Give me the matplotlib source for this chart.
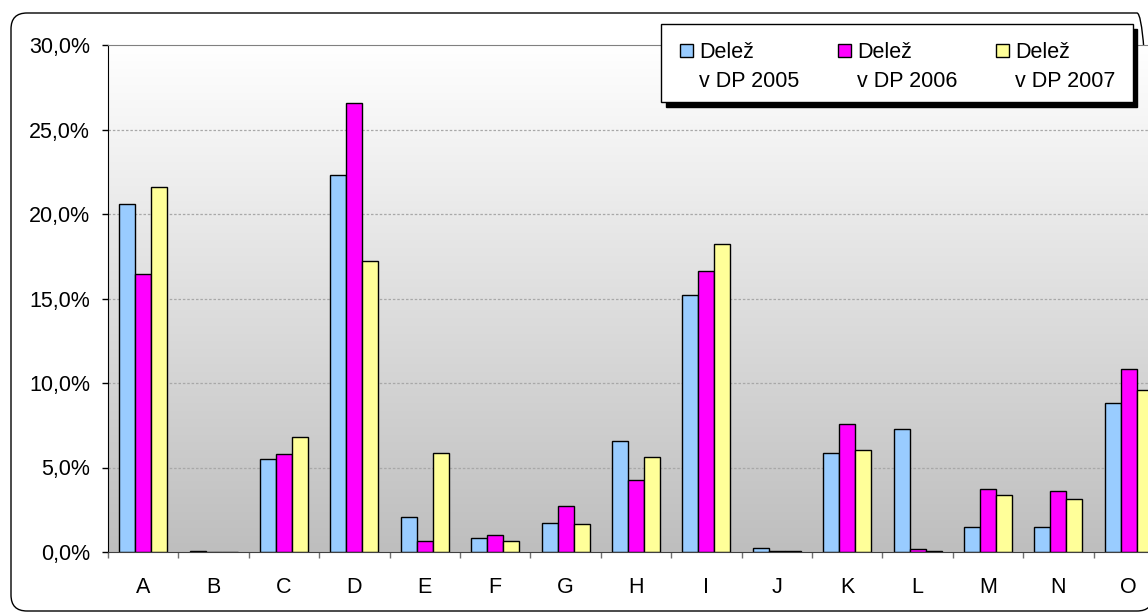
import numpy as np
import matplotlib
matplotlib.use("Agg")
import matplotlib.pyplot as plt
from matplotlib.patches import Rectangle, FancyBboxPatch
from matplotlib.ticker import FuncFormatter

# data (share in %)
categories = ['A', 'B', 'C', 'D', 'E', 'F', 'G', 'H', 'I', 'J', 'K', 'L', 'M', 'N', 'O']
share_2005 = [20.6, 0.08, 5.5, 22.3, 2.05, 0.8, 1.7, 6.55, 15.2, 0.25, 5.85, 7.3, 1.5, 1.45, 8.8]
share_2006 = [16.45, 0.02, 5.8, 26.55, 0.65, 1.0, 2.7, 4.25, 16.65, 0.05, 7.55, 0.2, 3.7, 3.6, 10.85]
share_2007 = [21.6, 0.0, 6.8, 17.2, 5.85, 0.65, 1.65, 5.65, 18.2, 0.05, 6.05, 0.05, 3.35, 3.15, 9.6]
series_labels = ['Delež\nv DP 2005', 'Delež\nv DP 2006', 'Delež\nv DP 2007']
colors = ['#99CCFF', '#FF00FF', '#FFFF99']

plt.rcParams['font.family'] = ['Liberation Sans', 'DejaVu Sans']
plt.rcParams['font.size'] = 15.5

W, H = 1148, 612
fig = plt.figure(figsize=(W / 100, H / 100), dpi=100)


def px(x, y):
    # pixel position (from top-left) -> figure fraction
    return x / W, 1 - y / H


# =====================================================
# OUTER ROUNDED BORDER
# =====================================================
bx0, by0 = px(11, 611)
bx1, by1 = px(1153, 13)
border = FancyBboxPatch((bx0, by0), bx1 - bx0, by1 - by0,
                        boxstyle="round,pad=0,rounding_size=%f" % (16 / W),
                        transform=fig.transFigure, facecolor='none',
                        edgecolor='black', linewidth=1.0,
                        mutation_aspect=W / H, zorder=-1)
fig.patches.append(border)

# =====================================================
# PLOT AREA
# =====================================================
cat_w = 70.4
left, top, bottom = 108, 45, 552
ax = fig.add_axes([left / W, 1 - bottom / H, len(categories) * cat_w / W, (bottom - top) / H])
ax.set_zorder(2)

# gradient background (white at top, grey at bottom)
grad = np.linspace(0, 1, 256).reshape(-1, 1)
cmap = matplotlib.colors.LinearSegmentedColormap.from_list('bg', ['#FFFFFF', '#BEBEBE'])
ax.imshow(grad, extent=[-0.5, len(categories) - 0.5, 0, 30], cmap=cmap,
          aspect='auto', zorder=0, origin='upper')
ax.set_xlim(-0.5, len(categories) - 0.5)
ax.set_ylim(0, 30)

for yv in [5, 10, 15, 20, 25]:
    ax.axhline(yv, color='#A8A8A8', linewidth=0.9, linestyle=(0, (2, 1.5)), zorder=1)

x = np.arange(len(categories))
bw = 0.228
for i, vals in enumerate([share_2005, share_2006, share_2007]):
    ax.bar(x + (i - 1) * bw, vals, width=bw, color=colors[i],
           edgecolor='black', linewidth=1.0, zorder=3)

ax.spines['right'].set_visible(False)
ax.spines['top'].set_color('#808080')
ax.spines['left'].set_color('black')
ax.spines['bottom'].set_color('#404040')
ax.spines['bottom'].set_zorder(4)

ax.set_yticks([0, 5, 10, 15, 20, 25, 30])
ax.yaxis.set_major_formatter(FuncFormatter(lambda v, p: f"{v:.1f}%".replace('.', ',')))
ax.tick_params(axis='y', direction='out', length=4.3, width=1.0, pad=8.6, color='black')

ax.set_xticks(np.arange(len(categories) + 1) - 0.5)
ax.set_xticklabels([])
ax.set_xticks(x, minor=True)
ax.set_xticklabels(categories, minor=True)
ax.tick_params(axis='x', which='major', direction='out', length=4.3, width=1.0, color='#707070')
ax.tick_params(axis='x', which='minor', length=0, pad=18)

# =====================================================
# LEGEND (drawn by hand, with shadow)
# =====================================================
sx, sy = px(666, 107)
sx1, sy1 = px(1137, 29)
fig.patches.append(Rectangle((sx, sy), sx1 - sx, sy1 - sy, transform=fig.transFigure,
                             facecolor='black', edgecolor='black', zorder=5))
lx, ly = px(661, 102)
lx1, ly1 = px(1133, 24)
fig.patches.append(Rectangle((lx, ly), lx1 - lx, ly1 - ly, transform=fig.transFigure,
                             facecolor='white', edgecolor='black', linewidth=1.0, zorder=6))

for i, lab in enumerate(series_labels):
    mx = 680 + i * 158
    mx0, my0 = px(mx, 57)
    fig.patches.append(Rectangle((mx0, my0), 13 / W, 13 / H, transform=fig.transFigure,
                                 facecolor=colors[i], edgecolor='black', linewidth=1.0, zorder=7))
    l1, l2 = lab.split('\n')
    tx, ty1 = px(mx + 19, 58)
    _, ty2 = px(mx + 19, 87)
    fig.text(tx, ty1, l1, va='baseline', ha='left', zorder=8)
    fig.text(tx, ty2, l2, va='baseline', ha='left', zorder=8)

plt.savefig("out.png", dpi=100)
